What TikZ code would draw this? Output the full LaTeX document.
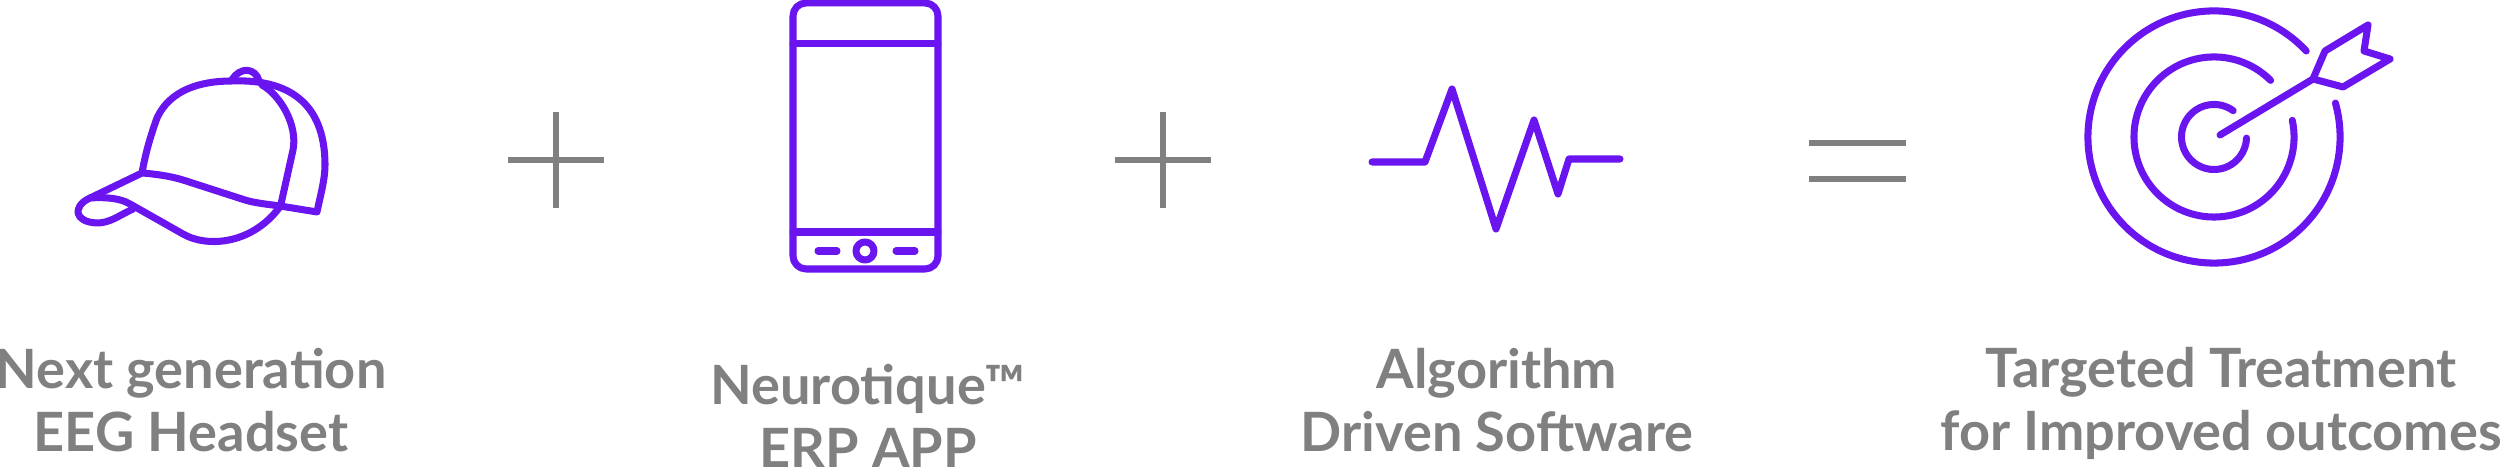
\documentclass[tikz,border=0pt]{standalone}
\usepackage{fontspec}
\setmainfont{Lato}
\usepackage{xcolor}
\definecolor{iconviolet}{HTML}{6A14F0}
\definecolor{labelgray}{HTML}{808080}
\tikzset{
	icon/.style={draw=iconviolet,line width=2pt,line cap=round,line join=round},
	sign/.style={draw=labelgray,line width=1.6pt},
	caption/.style={text=labelgray,align=center,font=\fontsize{15.4pt}{17.9pt}\selectfont\bfseries,inner sep=0pt},
}

\begin{document}
\begin{tikzpicture}[x=0.01cm,y=-0.01cm]
	\useasboundingbox (0,0) rectangle (2500,468);

	% cap
	\draw[icon] (142,173) .. controls (146,150) and (152,132) .. (157,118) .. controls (170,90) and (200,81) .. (232,81) .. controls (285,79) and (325,100) .. (325,165) .. controls (325,180) and (320,197) .. (317,212) -- (280,206) .. controls (265,204) and (255,203) .. (245,200) -- (183,180) .. controls (170,176) and (155,174) .. (142,173) -- (88,199) .. controls (73,207) and (74,222) .. (97,223) .. controls (110,223) and (118,216) .. (133,209);
	\draw[icon] (90,198) .. controls (105,197) and (120,198) .. (130,204) -- (183,234) .. controls (205,247) and (250,246) .. (279,208);
	\draw[icon] (262,85) .. controls (280,95) and (298,125) .. (293,150) -- (281,204);
	\draw[icon] (232,80) .. controls (240,66) and (256,68) .. (259,81);

	% first plus
	\coordinate (plus1) at (556,160);
	\draw[sign] ([xshift=-0.48cm]plus1) -- ([xshift=0.48cm]plus1);
	\draw[sign] ([yshift=-0.48cm]plus1) -- ([yshift=0.48cm]plus1);

	% phone
	\draw[icon,rounded corners=0.13cm] (793,3) rectangle (938,269);
	\draw[icon] (793,44) -- (938,44);
	\draw[icon] (793,232) -- (938,232);
	\draw[icon] (865,251) circle[radius=0.09cm];
	\draw[icon] (818,251) -- (837,251);
	\draw[icon] (896,251) -- (915,251);

	% second plus
	\coordinate (plus2) at (1163,160);
	\draw[sign] ([xshift=-0.48cm]plus2) -- ([xshift=0.48cm]plus2);
	\draw[sign] ([yshift=-0.48cm]plus2) -- ([yshift=0.48cm]plus2);

	% wave
	\draw[icon] (1372,162) -- (1425,162) -- (1452,89) -- (1496,229) -- (1534,120) -- (1558,194) -- (1569,159) -- (1620,159);

	% equals
	\draw[sign] (1809,143) -- (1906,143);
	\draw[sign] (1809,179) -- (1906,179);

	% target
	\coordinate (center) at (2214,137);
	\draw[icon] (center) ++(43:1.26cm) arc[start angle=43,end angle=375.6,radius=1.26cm];
	\draw[icon] (center) ++(45:0.80cm) arc[start angle=45,end angle=372,radius=0.80cm];
	\draw[icon] (center) ++(54:0.325cm) arc[start angle=54,end angle=358,radius=0.325cm];
	\draw[icon] (2220,135) -- (2313,79);
	\draw[icon] (2313,79) -- (2325,51) -- (2368,25) -- (2364,51) -- (2390,59) -- (2343,87) -- cycle;

	% captions
	\node[caption] (headset) at (191,400) {Next generation\\EEG Headset};
	\node[caption] (app) at (868,416) {Neurotique™\\ERP APP};
	\node[caption] (software) at (1497,400) {Algorithm\\Driven Software};
	\node[caption] (treatment) at (2221,403) {Targeted Treatment\\for Improved outcomes};
\end{tikzpicture}
\end{document}
